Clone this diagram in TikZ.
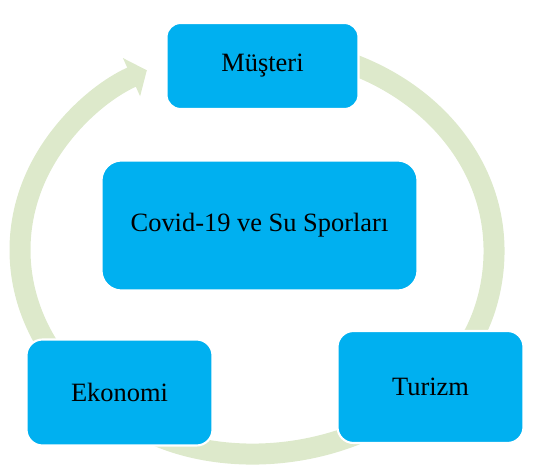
\documentclass[tikz,border=0pt]{standalone}
\usepackage{fontspec}
\setmainfont{Liberation Serif}
\usetikzlibrary{arrows.meta}
\definecolor{boxblue}{RGB}{0,176,240}
\definecolor{ringgreen}{RGB}{221,233,203}

\begin{document}
\begin{tikzpicture}[
    box/.style={fill=boxblue, draw=white, line width=1.5pt, rounded corners=0.4cm,
      font=\fontsize{18.8}{22}\selectfont, text=black, inner sep=0pt},
    ring/.style={draw=ringgreen, line width=0.525cm,
      -{Triangle[width=1.025cm,length=0.42cm]}}]
  \useasboundingbox (0,0) rectangle (13.5,11.65);
  \coordinate (c) at (6.425,5.4);
  % cycle arcs
  \draw[ring] ([shift={(215:5.925 and 5.075)}]c) arc[start angle=215, end angle=117.7, x radius=5.925, y radius=5.075];
  \draw[ring] ([shift={(67:5.925 and 5.075)}]c) arc[start angle=67, end angle=-35, x radius=5.925, y radius=5.075];
  \draw[ring] ([shift={(-55:5.925 and 5.075)}]c) arc[start angle=-55, end angle=-125, x radius=5.925, y radius=5.075];
  % boxes
  \node[box, minimum width=4.8cm, minimum height=2.15cm, rounded corners=0.35cm] (musteri) at (6.5625,10.0) {Müşteri};
  \node[box, minimum width=7.9cm, minimum height=3.25cm, rounded corners=0.5cm] (covid) at (6.4875,6.0125) {Covid-19 ve Su Sporları};
  \node[box, minimum width=4.65cm, minimum height=2.65cm] (ekonomi) at (2.9875,1.8375) {Ekonomi};
  \node[box, minimum width=4.65cm, minimum height=2.8cm] (turizm) at (10.7625,1.975) {Turizm};
\end{tikzpicture}
\end{document}
